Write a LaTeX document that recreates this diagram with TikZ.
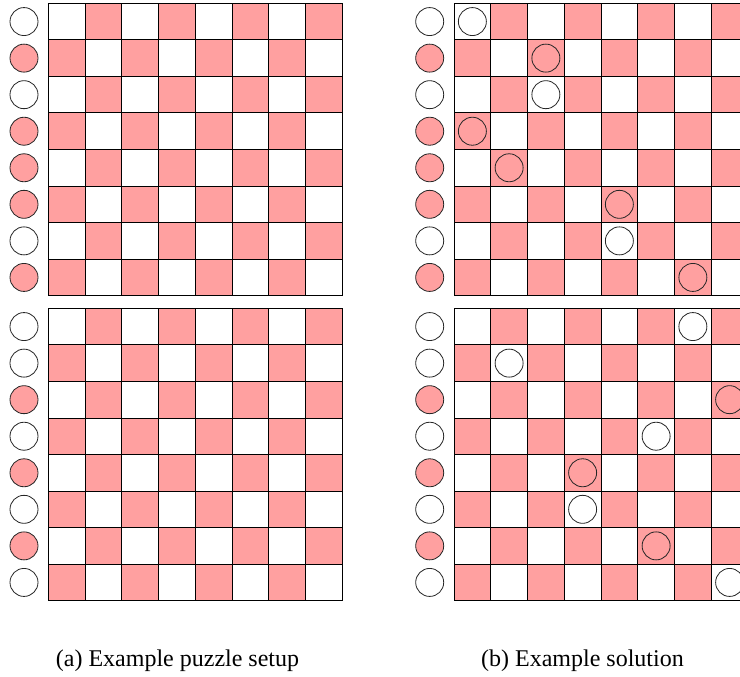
\documentclass[tikz,border=0pt]{standalone}
\usepackage{fontspec}
\setmainfont{Liberation Serif}
\definecolor{pinkcell}{RGB}{255,160,160}
\tikzset{
  cellbox/.style={draw=black,line width=0.9pt},
  peg/.style={draw=black!85,line width=0.8pt},
  captiontext/.style={font=\fontsize{24}{28}\selectfont,anchor=base,inner sep=0pt}
}
\newcommand\cw{36.75}
\newcommand\ch{36.55}
\newcommand\pegr{14}
% #1 = x0, #2 = y0, #3 = side peg colours (row/colour)
\newcommand\drawgrid[3]{%
  \foreach \r in {0,...,7}{%
    \foreach \c in {0,...,7}{%
      \ifodd\numexpr\r+\c\relax \def\fc{pinkcell}\else\def\fc{white}\fi
      \path[cellbox,fill=\fc] ({#1+\c*\cw},{#2+\r*\ch}) rectangle ++(\cw,\ch);
    }%
  }%
  \foreach \r/\col in {#3}{%
    \path[peg,fill=\col] ({#1-24.3},{#2+(\r+0.5)*\ch}) circle[radius=\pegr];
  }%
}
% #1 = x0, #2 = y0, #3 = row/col positions of placed pegs
\newcommand\drawpegs[3]{%
  \foreach \r/\c in {#3}{%
    \ifodd\numexpr\r+\c\relax \def\fc{pinkcell}\else\def\fc{white}\fi
    \path[peg,fill=\fc] ({#1+(\c+0.5)*\cw},{#2+(\r+0.5)*\ch}) circle[radius=\pegr];
  }%
}
\begin{document}
\begin{tikzpicture}[x=1pt,y=-1pt]
\useasboundingbox (0,0) rectangle (740,677);
\clip (0,0) rectangle (740,677);
% left panel
\drawgrid{48.3}{3.3}{0/white,1/pinkcell,2/white,3/pinkcell,4/pinkcell,5/pinkcell,6/white,7/pinkcell}
\drawgrid{48.3}{308.3}{0/white,1/white,2/pinkcell,3/white,4/pinkcell,5/white,6/pinkcell,7/white}
% right panel
\drawgrid{454}{3.3}{0/white,1/pinkcell,2/white,3/pinkcell,4/pinkcell,5/pinkcell,6/white,7/pinkcell}
\drawgrid{454}{308.3}{0/white,1/white,2/pinkcell,3/white,4/pinkcell,5/white,6/pinkcell,7/white}
\drawpegs{454}{3.3}{0/0,1/2,2/2,3/0,4/1,5/4,6/4,7/6}
\drawpegs{454}{308.3}{0/6,1/1,2/7,3/5,4/3,5/3,6/5,7/7}
% captions
\node[captiontext] (capa) at (177.5,666.7) {(a) Example puzzle setup};
\node[captiontext] (capb) at (582.5,666.7) {(b) Example solution};
\end{tikzpicture}
\end{document}
